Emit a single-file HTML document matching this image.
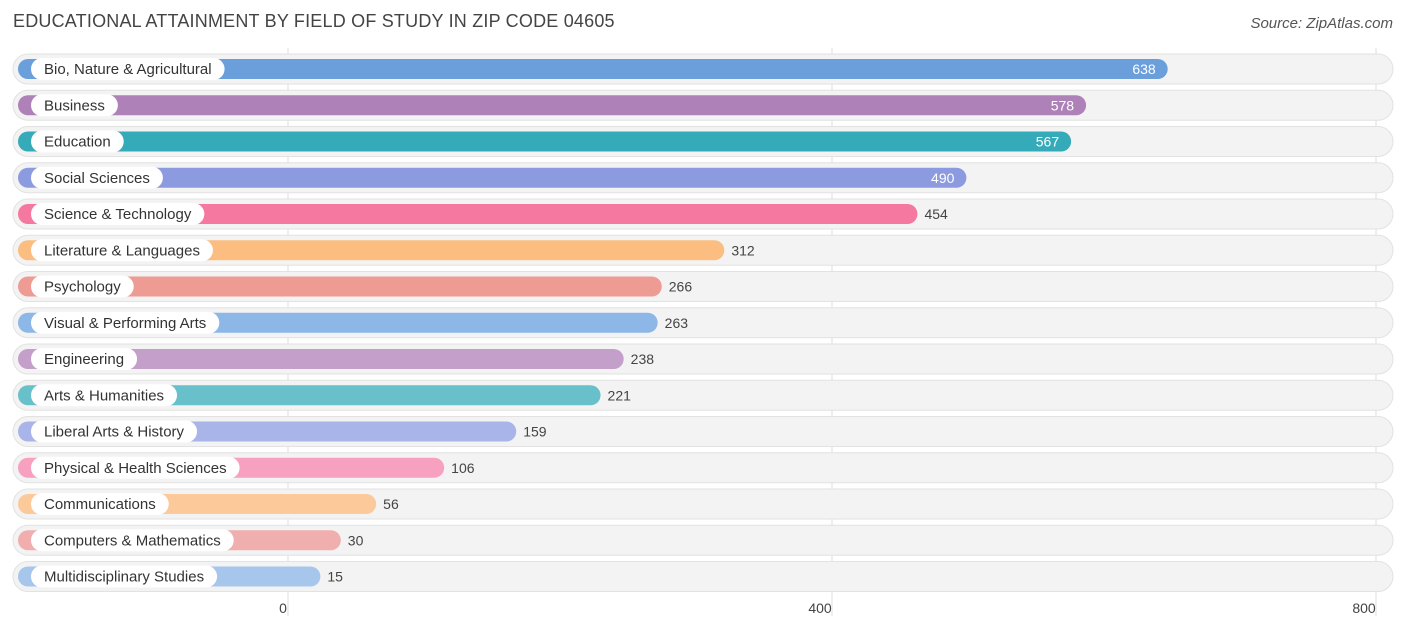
<!DOCTYPE html>
<html><head><meta charset="utf-8">
<style>
body{margin:0;background:#fff;font-family:"Liberation Sans",sans-serif;}
#c{position:relative;width:1406px;height:631px;overflow:hidden;}
.t{position:absolute;left:13px;top:11px;font-size:18px;color:#444;letter-spacing:0.2px}
.s{position:absolute;right:13px;top:15px;font-size:15px;color:#555;font-style:italic}
</style></head><body>
<div id="c">
<div class="t">EDUCATIONAL ATTAINMENT BY FIELD OF STUDY IN ZIP CODE 04605</div>
<div class="s">Source: ZipAtlas.com</div>
<svg id="svg" width="1406" height="631" style="position:absolute;left:0;top:0"></svg>
</div>
<script>
const categories=["Bio, Nature & Agricultural","Business","Education","Social Sciences","Science & Technology","Literature & Languages","Psychology","Visual & Performing Arts","Engineering","Arts & Humanities","Liberal Arts & History","Physical & Health Sciences","Communications","Computers & Mathematics","Multidisciplinary Studies"];
const values=[638,578,567,490,454,312,266,263,238,221,159,106,56,30,15];
const colors=["#6a9fdc","#ae82b8","#35aab8","#8c9be0","#f478a0","#fbbd80","#ee9b94","#8db7e6","#c39fc9","#68c0cb","#a9b4e8","#f7a0bf","#fbc99a","#f0aeae","#a7c6ec"];
const ticks=[0,400,800];
const NS="http://www.w3.org/2000/svg";
const svg=document.getElementById('svg');
const x=v=>288+v*1.36;
const y=i=>69+i*36.25;
function mk(t,a,p){const e=document.createElementNS(NS,t);for(const k in a)e.setAttribute(k,a[k]);(p||svg).appendChild(e);return e;}
ticks.forEach(t=>{
 const l=mk('line',{x1:x(t),x2:x(t),y1:48,y2:616,stroke:'#ddd','stroke-width':1});
 
 
 const tx=mk('text',{x:x(t)-(t==0?5:12)+(t==0?0:0),y:613,'font-size':14,fill:'#444','text-anchor':'middle'});
 tx.textContent=t;
 
 
});
const meas=mk('text',{'font-size':15,x:-1000,y:-1000});
categories.forEach((c,i)=>{
 const cy=y(i);
 const g=mk('g',{});
 
 
 mk('rect',{x:13,y:cy-15,width:1380,height:30,rx:15,fill:'#f3f3f3',stroke:'#e2e2e2'},g);
 const w=x(values[i])+12-18;
 const b=mk('rect',{x:18,y:cy-10,width:w,height:20,rx:10,fill:colors[i]},g);
 
 
 meas.textContent=c;
 const tw=meas.getComputedTextLength();
 mk('rect',{x:31,y:cy-11,width:tw+26,height:22,rx:11,fill:'#fff'},g);
 const lt=mk('text',{x:44,y:cy+5,'font-size':15,fill:'#333'},g);
 lt.textContent=c;
 
 
 const inside=values[i]>=480;
 const end=18+w;
 const vt=mk('text',{x:inside?end-12:end+7,y:cy+5,'font-size':14,fill:inside?'#fff':'#444','text-anchor':inside?'end':'start'},g);
 vt.textContent=values[i];
 
 
});
meas.remove();
</script>
</body></html>
